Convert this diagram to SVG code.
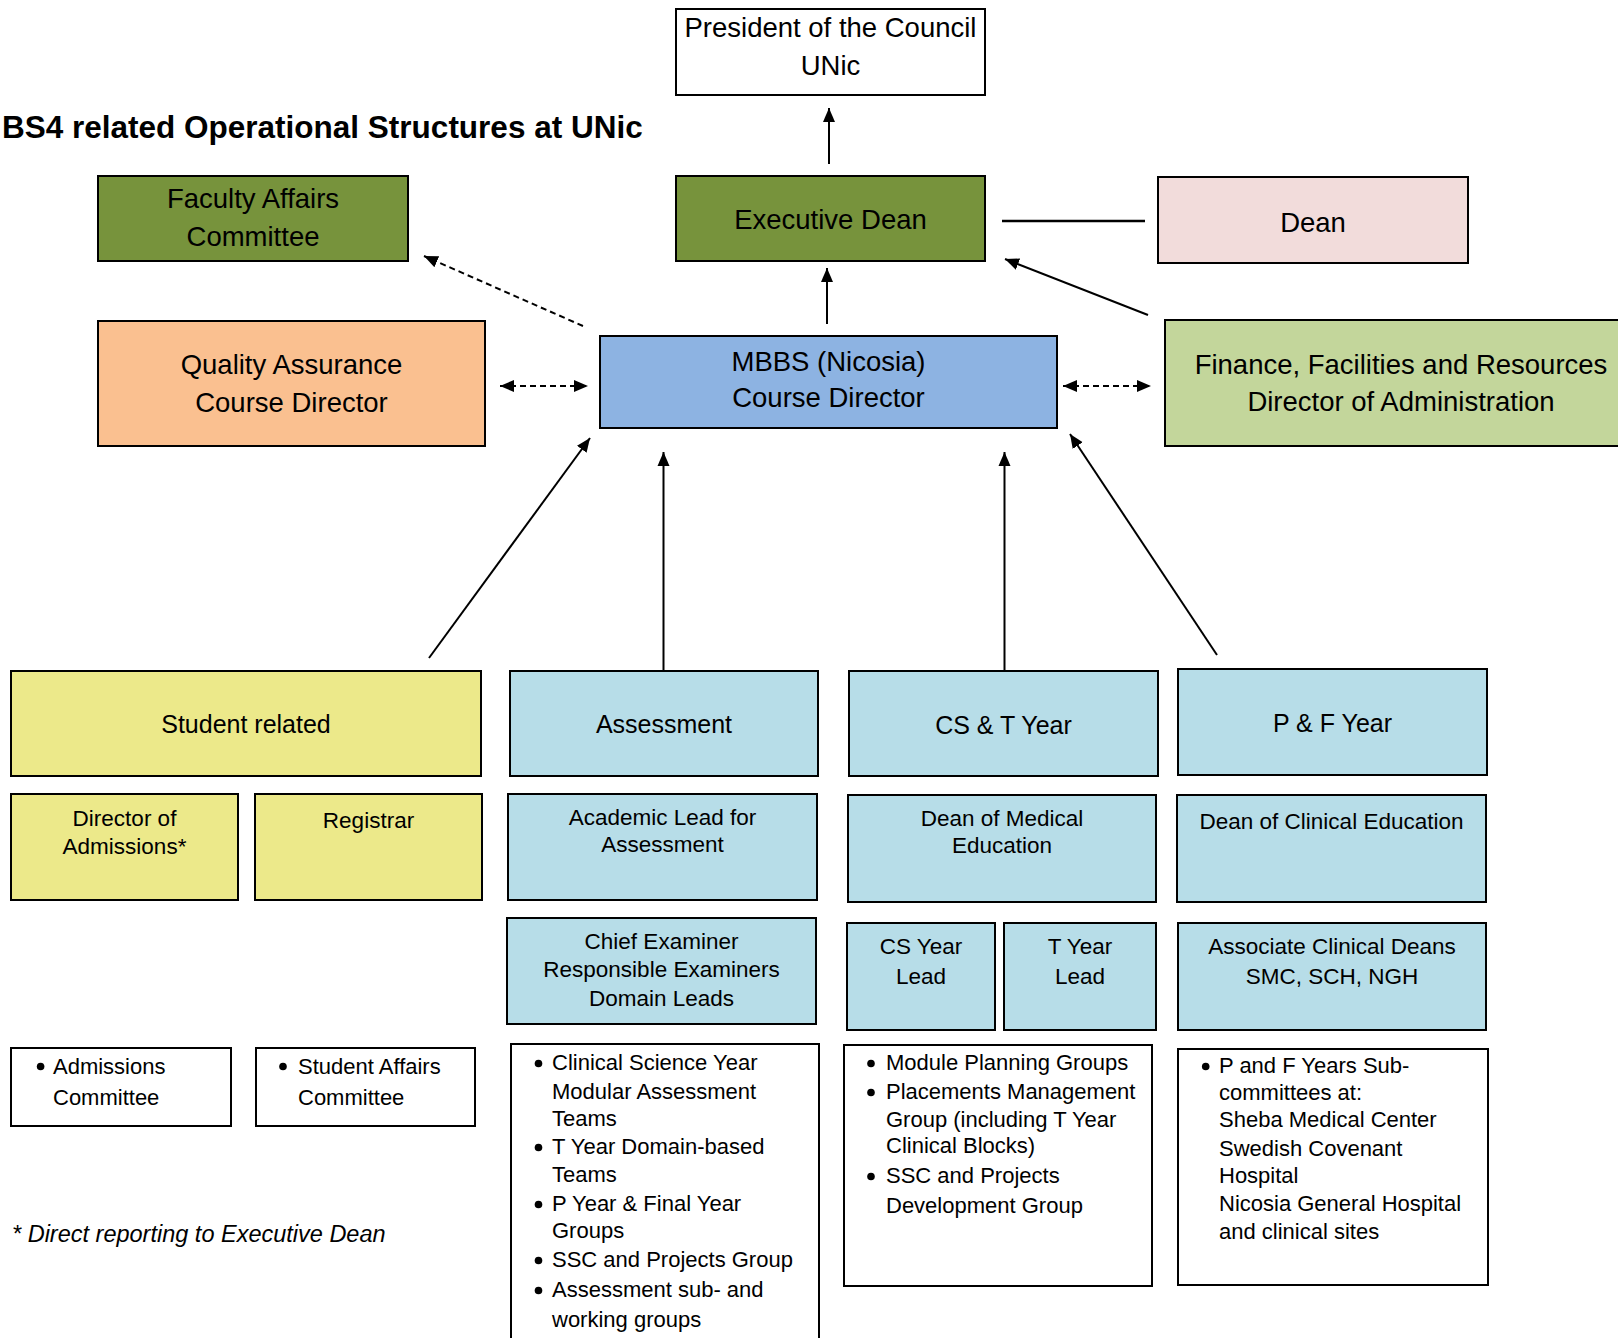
<svg xmlns="http://www.w3.org/2000/svg" width="1618" height="1338" viewBox="0 0 1618 1338">
<style>
text{font-family:"Liberation Sans",Arial,sans-serif;fill:#000}
.box{stroke:#000;stroke-width:2}
.t1{font-size:27.5px;text-anchor:middle}
.t2{font-size:25px;text-anchor:middle}
.t3{font-size:22.5px;text-anchor:middle}
.t4{font-size:22px}
.con{stroke:#000;stroke-width:2;fill:none}
.dash{stroke-dasharray:6 4}
.bul{fill:#000}
</style>
<defs>
<marker id="ah" markerUnits="userSpaceOnUse" markerWidth="16" markerHeight="14" refX="14" refY="6" orient="auto-start-reverse" viewBox="0 0 16 12">
<path d="M0,0 L14,6 L0,12 z" fill="#000"/>
</marker>
</defs>
<rect width="1618" height="1338" fill="#fff"/>
<text x="2" y="138" style="font-size:31.5px;font-weight:bold">BS4 related Operational Structures at UNic</text>

<g id="connectors">
<line class="con" x1="829" y1="164" x2="829" y2="108" marker-end="url(#ah)"/>
<line class="con" x1="827" y1="324" x2="827" y2="268" marker-end="url(#ah)"/>
<line class="con" x1="1002" y1="221" x2="1145" y2="221" style="stroke-width:2.5"/>
<line class="con" x1="1148" y1="315" x2="1005" y2="259" marker-end="url(#ah)"/>
<line class="con dash" x1="583" y1="326" x2="424" y2="256" marker-end="url(#ah)"/>
<line class="con dash" x1="500" y1="386" x2="588" y2="386" marker-start="url(#ah)" marker-end="url(#ah)"/>
<line class="con dash" x1="1063" y1="386" x2="1151" y2="386" marker-start="url(#ah)" marker-end="url(#ah)"/>
<line class="con" x1="429" y1="658" x2="590" y2="438" marker-end="url(#ah)"/>
<line class="con" x1="663.5" y1="671" x2="663.5" y2="452" marker-end="url(#ah)"/>
<line class="con" x1="1004.5" y1="671" x2="1004.5" y2="452" marker-end="url(#ah)"/>
<line class="con" x1="1217" y1="655" x2="1070" y2="434" marker-end="url(#ah)"/>
</g>

<g id="president">
<rect class="box" x="676" y="9" width="309" height="86" fill="#fff"/>
<text class="t1" x="830.5" y="37">President of the Council</text>
<text class="t1" x="830.5" y="75">UNic</text>
</g>
<g id="faculty-affairs">
<rect class="box" x="98" y="176" width="310" height="85" fill="#77933C"/>
<text class="t1" x="253" y="208">Faculty Affairs</text>
<text class="t1" x="253" y="246">Committee</text>
</g>
<g id="executive-dean">
<rect class="box" x="676" y="176" width="309" height="85" fill="#77933C"/>
<text class="t1" x="830.5" y="229">Executive Dean</text>
</g>
<g id="dean">
<rect class="box" x="1158" y="177" width="310" height="86" fill="#F2DCDB"/>
<text class="t1" x="1313" y="232">Dean</text>
</g>
<g id="quality-assurance">
<rect class="box" x="98" y="321" width="387" height="125" fill="#FAC090"/>
<text class="t1" x="291.5" y="374">Quality Assurance</text>
<text class="t1" x="291.5" y="412">Course Director</text>
</g>
<g id="mbbs">
<rect class="box" x="600" y="336" width="457" height="92" fill="#8DB3E2"/>
<text class="t1" x="828.5" y="371">MBBS (Nicosia)</text>
<text class="t1" x="828.5" y="407">Course Director</text>
</g>
<g id="finance">
<rect class="box" x="1165" y="320" width="480" height="126" fill="#C3D69B"/>
<text class="t1" x="1401" y="374">Finance, Facilities and Resources</text>
<text class="t1" x="1401" y="411">Director of Administration</text>
</g>

<g id="student-related">
<rect class="box" x="11" y="671" width="470" height="105" fill="#ECE98A"/>
<text class="t2" x="246" y="733">Student related</text>
</g>
<g id="assessment">
<rect class="box" x="510" y="671" width="308" height="105" fill="#B7DDE8"/>
<text class="t2" x="664" y="733">Assessment</text>
</g>
<g id="cs-t-year">
<rect class="box" x="849" y="671" width="309" height="105" fill="#B7DDE8"/>
<text class="t2" x="1003.5" y="734">CS &amp; T Year</text>
</g>
<g id="p-f-year">
<rect class="box" x="1178" y="669" width="309" height="106" fill="#B7DDE8"/>
<text class="t2" x="1332.5" y="732">P &amp; F Year</text>
</g>

<g id="director-admissions">
<rect class="box" x="11" y="794" width="227" height="106" fill="#ECE98A"/>
<text class="t3" x="124.5" y="826">Director of</text>
<text class="t3" x="124.5" y="854">Admissions*</text>
</g>
<g id="registrar">
<rect class="box" x="255" y="794" width="227" height="106" fill="#ECE98A"/>
<text class="t3" x="368.5" y="828">Registrar</text>
</g>
<g id="academic-lead">
<rect class="box" x="508" y="794" width="309" height="106" fill="#B7DDE8"/>
<text class="t3" x="662.5" y="825">Academic Lead for</text>
<text class="t3" x="662.5" y="852">Assessment</text>
</g>
<g id="dean-medical-education">
<rect class="box" x="848" y="795" width="308" height="107" fill="#B7DDE8"/>
<text class="t3" x="1002" y="826">Dean of Medical</text>
<text class="t3" x="1002" y="853">Education</text>
</g>
<g id="dean-clinical-education">
<rect class="box" x="1177" y="795" width="309" height="107" fill="#B7DDE8"/>
<text class="t3" x="1331.5" y="829">Dean of Clinical Education</text>
</g>

<g id="chief-examiner">
<rect class="box" x="507" y="918" width="309" height="106" fill="#B7DDE8"/>
<text class="t3" x="661.5" y="949">Chief Examiner</text>
<text class="t3" x="661.5" y="977">Responsible Examiners</text>
<text class="t3" x="661.5" y="1006">Domain Leads</text>
</g>
<g id="cs-year-lead">
<rect class="box" x="847" y="923" width="148" height="107" fill="#B7DDE8"/>
<text class="t3" x="921" y="954">CS Year</text>
<text class="t3" x="921" y="984">Lead</text>
</g>
<g id="t-year-lead">
<rect class="box" x="1004" y="923" width="152" height="107" fill="#B7DDE8"/>
<text class="t3" x="1080" y="954">T Year</text>
<text class="t3" x="1080" y="984">Lead</text>
</g>
<g id="associate-clinical-deans">
<rect class="box" x="1178" y="923" width="308" height="107" fill="#B7DDE8"/>
<text class="t3" x="1332" y="954">Associate Clinical Deans</text>
<text class="t3" x="1332" y="984">SMC, SCH, NGH</text>
</g>

<g id="admissions-committee">
<rect class="box" x="11" y="1048" width="220" height="78" fill="#fff"/>
<circle class="bul" cx="40.6" cy="1066.5" r="3.8"/>
<text class="t4" x="53" y="1074">Admissions</text>
<text class="t4" x="53" y="1105">Committee</text>
</g>
<g id="student-affairs-committee">
<rect class="box" x="256" y="1048" width="219" height="78" fill="#fff"/>
<circle class="bul" cx="283" cy="1066.5" r="3.8"/>
<text class="t4" x="298" y="1074">Student Affairs</text>
<text class="t4" x="298" y="1105">Committee</text>
</g>
<g id="assessment-groups">
<rect class="box" x="511" y="1044" width="308" height="310" fill="#fff"/>
<circle class="bul" cx="538.5" cy="1063.5" r="3.8"/>
<text class="t4" x="552" y="1070">Clinical Science Year</text>
<text class="t4" x="552" y="1099">Modular Assessment</text>
<text class="t4" x="552" y="1126">Teams</text>
<circle class="bul" cx="538.5" cy="1147.5" r="3.8"/>
<text class="t4" x="552" y="1154">T Year Domain-based</text>
<text class="t4" x="552" y="1182">Teams</text>
<circle class="bul" cx="538.5" cy="1204.5" r="3.8"/>
<text class="t4" x="552" y="1211">P Year &amp; Final Year</text>
<text class="t4" x="552" y="1238">Groups</text>
<circle class="bul" cx="538.5" cy="1260.5" r="3.8"/>
<text class="t4" x="552" y="1267">SSC and Projects Group</text>
<circle class="bul" cx="538.5" cy="1290.5" r="3.8"/>
<text class="t4" x="552" y="1297">Assessment sub- and</text>
<text class="t4" x="552" y="1327">working groups</text>
</g>
<g id="cs-t-groups">
<rect class="box" x="844" y="1045" width="308" height="241" fill="#fff"/>
<circle class="bul" cx="871" cy="1063.5" r="3.8"/>
<text class="t4" x="886" y="1070">Module Planning Groups</text>
<circle class="bul" cx="871" cy="1092.5" r="3.8"/>
<text class="t4" x="886" y="1099">Placements Management</text>
<text class="t4" x="886" y="1127">Group (including T Year</text>
<text class="t4" x="886" y="1153">Clinical Blocks)</text>
<circle class="bul" cx="871" cy="1176.5" r="3.8"/>
<text class="t4" x="886" y="1183">SSC and Projects</text>
<text class="t4" x="886" y="1213">Development Group</text>
</g>
<g id="p-f-groups">
<rect class="box" x="1178" y="1049" width="310" height="236" fill="#fff"/>
<circle class="bul" cx="1205.7" cy="1066.5" r="3.8"/>
<text class="t4" x="1219" y="1073">P and F Years Sub-</text>
<text class="t4" x="1219" y="1100">committees at:</text>
<text class="t4" x="1219" y="1127">Sheba Medical Center</text>
<text class="t4" x="1219" y="1156">Swedish Covenant</text>
<text class="t4" x="1219" y="1183">Hospital</text>
<text class="t4" x="1219" y="1211">Nicosia General Hospital</text>
<text class="t4" x="1219" y="1239">and clinical sites</text>
</g>

<text x="12" y="1242" style="font-size:23.5px;font-style:italic">* Direct reporting to Executive Dean</text>
</svg>
